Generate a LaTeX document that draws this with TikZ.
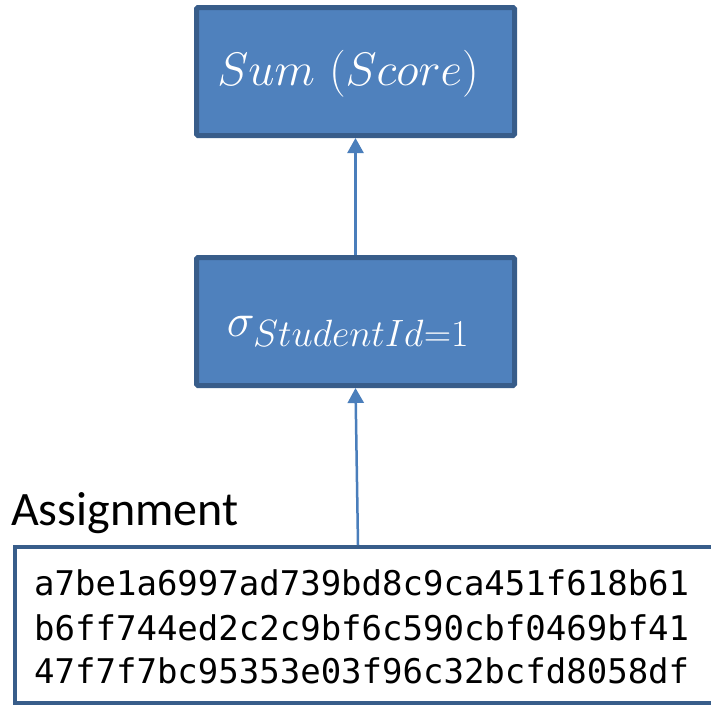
\RequirePackage{fix-cm}
\documentclass[tikz,border=0pt]{standalone}
\usepackage{fontspec}
\usetikzlibrary{arrows.meta}
\newfontfamily\calibri{Carlito}
\newfontfamily\hexmono{DejaVu Sans Mono}
\DeclareMathSizes{47}{47}{38}{30}
\definecolor{boxfill}{HTML}{4F81BD}
\definecolor{boxedge}{HTML}{385D8A}
\definecolor{linkblue}{HTML}{4A7EBB}
\tikzset{
  opbox/.style={draw=boxedge, fill=boxfill, line width=5pt, rounded corners=1.5pt,
    minimum width=318pt, minimum height=128pt, inner sep=0pt},
  optext/.style={text=white, inner sep=0pt, font=\fontsize{47}{52}\selectfont},
  relbox/.style={draw=boxedge, line width=4.5pt, minimum width=702pt,
    minimum height=156pt, inner sep=0pt},
  hexline/.style={anchor=base west, inner sep=0pt, font=\hexmono\fontsize{34}{40}\selectfont},
  link/.style={draw=linkblue, line width=2.5pt, -{Triangle[length=15pt,width=16pt]}}
}
\begin{document}
\begin{tikzpicture}[x=1pt,y=-1pt]
  \useasboundingbox (0,0) rectangle (711,704);
  \clip (0,0) rectangle (711,704);

  % operator boxes
  \node[opbox] (sum) at (355.5,71.5) {};
  \node[optext] (sumtxt) at (348,74) {$Sum\ (Score)$};
  \node[opbox] (sel) at (355.5,321.5) {};
  \node[optext] (seltxt) at (348,331) {$\sigma_{StudentId=1}$};

  % relation box and its contents
  \node[relbox] (asg) at (366,625) {};
  \node[anchor=base west, inner sep=0pt, font=\calibri\fontsize{48}{54}\selectfont] (asglabel) at (11,525) {Assignment};
  \node[hexline] (h1) at (34,595) {a7be1a6997ad739bd8c9ca451f618b61};
  \node[hexline] (h2) at (34,640) {b6ff744ed2c2c9bf6c590cbf0469bf41};
  \node[hexline] (h3) at (34,683) {47f7f7bc95353e03f96c32bcfd8058df};

  % data flow
  \coordinate (asgout) at (358,545);
  \draw[link] (asgout) -- (sel.south);
  \draw[link] (sel.north) -- (sum.south);
\end{tikzpicture}
\end{document}
